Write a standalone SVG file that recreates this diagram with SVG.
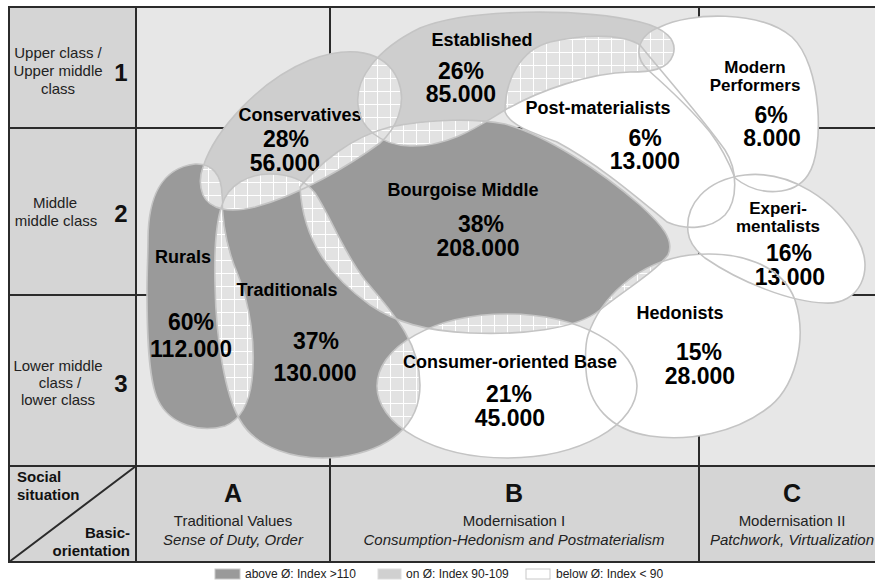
<svg xmlns="http://www.w3.org/2000/svg" width="875" height="580" viewBox="0 0 875 580">
<style>
text{font-family:"Liberation Sans",Arial,Helvetica,sans-serif;fill:#000}
.lbl{font-size:18px;font-weight:bold;text-anchor:middle}
.lbl2{font-size:17px;font-weight:bold;text-anchor:middle}
.num{font-size:23px;font-weight:bold;text-anchor:middle}
.row{font-size:15px;fill:#222;text-anchor:middle}
.rn{font-size:24px;font-weight:bold;text-anchor:middle;fill:#111}
.hdr{font-size:15px;fill:#222;text-anchor:middle}
.it{font-style:italic}
.big{font-size:25px;font-weight:bold;text-anchor:middle;fill:#111}
.sb{font-size:15px;font-weight:bold;fill:#111}
.leg{font-size:12px;fill:#222}
.dark{fill:#9a9a9a}
.light{fill:#cecece}
.white{fill:#ffffff}
.hat{fill:url(#hatch)}
.ol{fill:none;stroke:#c4c4c4;stroke-width:1.6}
.frame{stroke:#2b2b2b;stroke-width:2;fill:none}
</style>
<defs>
<pattern id="hatch" patternUnits="userSpaceOnUse" width="13" height="13">
<rect width="13" height="13" fill="#e2e2e2"/>
<path d="M0 0.5H13M0.5 0V13" stroke="#ffffff" stroke-width="1"/>
</pattern>
<path id="pR" d="M148,240 C148,200 160,168 195,164 C212,163 222,175 222,195 C222,220 225,245 238,275 C250,305 256,345 252,380 C249,405 240,420 225,426 C200,433 170,425 158,400 C148,380 147,330 147,290 C147,270 148,255 148,240 Z"/>
<path id="pT" d="M222,205 C228,185 248,174 270,174 C290,174 305,180 315,193 C330,215 342,250 365,280 C390,310 420,340 420,385 C420,425 390,450 340,457 C295,462 255,447 240,420 C225,395 216,340 215,285 C214,250 216,222 222,205 Z"/>
<path id="pC" d="M203,167 C215,130 260,80 310,60 C350,45 385,50 398,80 C408,105 395,130 380,143 C350,165 300,195 255,207 C230,213 210,210 203,195 C199,185 200,175 203,167 Z"/>
<path id="pE" d="M358,105 C355,80 375,50 420,28 C470,8 580,8 640,22 C665,28 678,40 673,55 C668,70 650,72 630,72 C590,73 540,90 505,110 C480,125 450,147 410,146 C380,145 360,128 358,105 Z"/>
<path id="pB" d="M300,187 C318,165 350,137 390,127 C430,119 475,118 505,124 C545,135 600,170 640,205 C662,225 675,240 668,255 C655,272 625,290 600,310 C575,330 520,335 470,333 C425,331 395,322 370,305 C335,280 303,245 300,187 Z"/>
<path id="pP" d="M505,112 C505,80 520,50 550,42 C590,33 625,35 640,45 C660,70 700,115 725,150 C738,170 738,200 725,215 C710,230 685,230 667,222 C640,200 600,165 557,142 C530,132 510,125 505,112 Z"/>
<path id="pM" d="M660,27 C690,12 760,10 792,37 C822,65 825,150 808,175 C795,195 760,198 735,178 C728,160 722,148 710,132 C690,108 665,85 648,70 C632,55 638,35 660,27 Z"/>
<path id="pX" d="M688,232 C685,205 705,180 745,175 C790,170 835,200 858,240 C875,270 860,305 825,303 C790,302 740,282 705,258 C695,250 689,242 688,232 Z"/>
<path id="pH" d="M588,335 C600,300 635,262 690,255 C740,250 782,265 795,300 C808,340 795,390 765,410 C735,432 690,442 650,436 C610,430 588,405 586,370 C585,355 585,345 588,335 Z"/>
<ellipse id="pK" cx="507" cy="386" rx="130" ry="72"/>
<clipPath id="cC"><use href="#pC"/></clipPath>
<clipPath id="cT"><use href="#pT"/></clipPath>
<clipPath id="cB"><use href="#pB"/></clipPath>
<clipPath id="cE"><use href="#pE"/></clipPath>
<clipPath id="cP"><use href="#pP"/></clipPath>
<clipPath id="cM"><use href="#pM"/></clipPath>
<clipPath id="cH"><use href="#pH"/></clipPath>
<clipPath id="cK"><use href="#pK"/></clipPath>
</defs>

<rect x="0" y="0" width="875" height="580" fill="#ffffff"/>

<g id="grid">
<rect x="136" y="7" width="750" height="459" fill="#e7e7e7"/>
<rect x="9" y="7" width="127" height="459" fill="#d5d5d5"/>
<rect x="9" y="466" width="877" height="96" fill="#d5d5d5"/>
<path class="frame" d="M9,128H886M9,295H886M330,7V562M699,7V562"/>
</g>

<g id="fills">
<use href="#pR" class="dark"/>
<use href="#pT" class="dark"/>
<use href="#pC" class="light"/>
<use href="#pE" class="light"/>
<use href="#pB" class="dark"/>
<use href="#pP" class="white"/>
<use href="#pM" class="white"/>
<use href="#pX" class="white"/>
<use href="#pH" class="white"/>
<use href="#pK" class="white"/>
</g>

<g id="overlaps">
<use href="#pR" class="hat" clip-path="url(#cC)"/>
<use href="#pR" class="hat" clip-path="url(#cT)"/>
<use href="#pT" class="hat" clip-path="url(#cC)"/>
<use href="#pT" class="hat" clip-path="url(#cB)"/>
<use href="#pT" class="hat" clip-path="url(#cK)"/>
<use href="#pC" class="hat" clip-path="url(#cB)"/>
<use href="#pC" class="hat" clip-path="url(#cE)"/>
<use href="#pE" class="hat" clip-path="url(#cB)"/>
<use href="#pE" class="hat" clip-path="url(#cP)"/>
<use href="#pE" class="hat" clip-path="url(#cM)"/>
<use href="#pB" class="hat" clip-path="url(#cP)"/>
<use href="#pB" class="hat" clip-path="url(#cH)"/>
<use href="#pB" class="hat" clip-path="url(#cK)"/>
</g>

<g id="rurals">
<use href="#pR" class="ol"/>
<text class="lbl" x="183" y="263">Rurals</text>
<text class="num" x="191" y="330">60%</text>
<text class="num" x="191" y="357">112.000</text>
</g>
<g id="traditionals">
<use href="#pT" class="ol"/>
<text class="lbl" x="287" y="296">Traditionals</text>
<text class="num" x="316" y="349">37%</text>
<text class="num" x="315" y="381">130.000</text>
</g>
<g id="conservatives">
<use href="#pC" class="ol"/>
<text class="lbl" x="300" y="121">Conservatives</text>
<text class="num" x="286" y="147">28%</text>
<text class="num" x="285" y="171">56.000</text>
</g>
<g id="established">
<use href="#pE" class="ol"/>
<text class="lbl" x="482" y="46">Established</text>
<text class="num" x="461" y="79">26%</text>
<text class="num" x="461" y="102">85.000</text>
</g>
<g id="bourgoise-middle">
<use href="#pB" class="ol"/>
<text class="lbl" x="463" y="196">Bourgoise Middle</text>
<text class="num" x="481" y="232">38%</text>
<text class="num" x="478" y="256">208.000</text>
</g>
<g id="post-materialists">
<use href="#pP" class="ol"/>
<text class="lbl" x="598" y="114">Post-materialists</text>
<text class="num" x="645" y="146">6%</text>
<text class="num" x="645" y="169">13.000</text>
</g>
<g id="modern-performers">
<use href="#pM" class="ol"/>
<text class="lbl2" x="755" y="73">Modern</text>
<text class="lbl2" x="755" y="91">Performers</text>
<text class="num" x="771" y="123">6%</text>
<text class="num" x="772" y="146">8.000</text>
</g>
<g id="experimentalists">
<use href="#pX" class="ol"/>
<text class="lbl2" x="778" y="214">Experi-</text>
<text class="lbl2" x="778" y="232">mentalists</text>
<text class="num" x="789" y="261">16%</text>
<text class="num" x="790" y="285">13.000</text>
</g>
<g id="hedonists">
<use href="#pH" class="ol"/>
<text class="lbl" x="680" y="319">Hedonists</text>
<text class="num" x="699" y="360">15%</text>
<text class="num" x="700" y="384">28.000</text>
</g>
<g id="consumer-oriented-base">
<use href="#pK" class="ol"/>
<text class="lbl" x="510" y="368">Consumer-oriented Base</text>
<text class="num" x="509" y="402">21%</text>
<text class="num" x="510" y="426">45.000</text>
</g>

<g id="axes">
<path class="frame" d="M9,466H886M136,7V562M9,562L136,466"/>
<rect class="frame" x="9" y="7" width="877" height="555"/>
<text class="row" x="58" y="58">Upper class /</text>
<text class="row" x="58" y="76">Upper middle</text>
<text class="row" x="58" y="94">class</text>
<text class="rn" x="121" y="81">1</text>
<text class="row" x="55" y="208">Middle</text>
<text class="row" x="56" y="226">middle class</text>
<text class="rn" x="121" y="222">2</text>
<text class="row" x="58" y="371">Lower middle</text>
<text class="row" x="60" y="388">class /</text>
<text class="row" x="58" y="405">lower class</text>
<text class="rn" x="121" y="392">3</text>
<text class="sb" x="17" y="482">Social</text>
<text class="sb" x="17" y="500">situation</text>
<text class="sb" x="130" y="538" text-anchor="end">Basic-</text>
<text class="sb" x="130" y="556" text-anchor="end">orientation</text>
<text class="big" x="233" y="502">A</text>
<text class="hdr" x="233" y="526">Traditional Values</text>
<text class="hdr it" x="233" y="545">Sense of Duty, Order</text>
<text class="big" x="514" y="502">B</text>
<text class="hdr" x="514" y="526">Modernisation I</text>
<text class="hdr it" x="514" y="545">Consumption-Hedonism and Postmaterialism</text>
<text class="big" x="792" y="502">C</text>
<text class="hdr" x="792" y="526">Modernisation II</text>
<text class="hdr it" x="792" y="545">Patchwork, Virtualization</text>
</g>

<g id="legend">
<rect x="215" y="569" width="25" height="10" fill="#9a9a9a" stroke="#c8c8c8" stroke-width="1"/>
<text class="leg" x="245" y="578">above Ø: Index &gt;110</text>
<rect x="378" y="569" width="23" height="10" fill="#d0d0d0" stroke="#dddddd" stroke-width="1"/>
<text class="leg" x="406" y="578">on Ø: Index 90-109</text>
<rect x="526" y="569" width="24" height="10" fill="#ffffff" stroke="#c8c8c8" stroke-width="1"/>
<text class="leg" x="556" y="578">below Ø: Index &lt; 90</text>
</g>
</svg>
